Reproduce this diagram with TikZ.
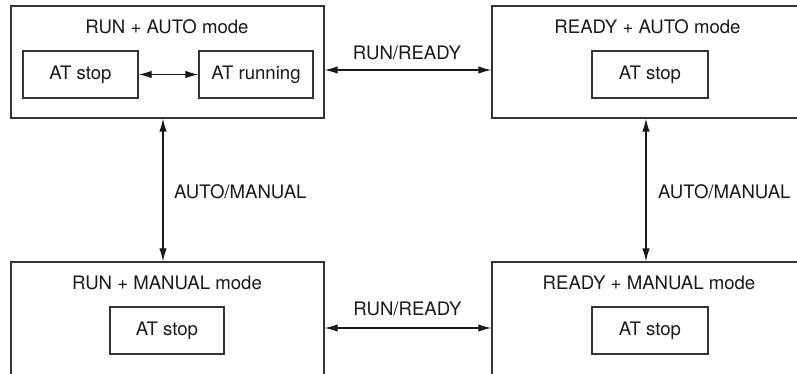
\documentclass[tikz,border=0pt]{standalone}
\usepackage{fontspec}
\setmainfont{TeX Gyre Heros}
\usetikzlibrary{arrows.meta}
\begin{document}
\begin{tikzpicture}[x=1pt,y=-1pt,
  every node/.style={font=\fontsize{18.6}{21}\selectfont, text=black!90},
  outer/.style={draw=black!80, line width=1.3pt, inner sep=0pt},
  inner/.style={draw=black!80, line width=1.3pt, minimum height=47pt, inner sep=0pt},
  arr/.style={{Latex[length=13pt,width=7.5pt]}-{Latex[length=13pt,width=7.5pt]}, line width=1.2pt, draw=black!90},
  lbl/.style={inner sep=0pt}
]
\useasboundingbox (0,0) rectangle (797,374);
\clip (0,0) rectangle (797,374);
% outer boxes
\node[outer, minimum width=313pt, minimum height=112pt] (A) at (167.5,62) {};
\node[outer, minimum width=318pt, minimum height=112pt] (B) at (651,62) {};
\node[outer, minimum width=313pt, minimum height=128pt] (C) at (167.5,326) {};
\node[outer, minimum width=318pt, minimum height=128pt] (D) at (651,326) {};
% titles
\node[lbl] (tA) at (167,27) {RUN + AUTO mode};
\node[lbl] (tB) at (647.5,27) {READY + AUTO mode};
\node[lbl] (tC) at (167,283) {RUN + MANUAL mode};
\node[lbl] (tD) at (649,283) {READY + MANUAL mode};
% inner boxes
\node[inner, minimum width=115pt] (A1) at (80.5,74.5) {AT stop};
\node[inner, minimum width=114pt] (A2) at (256,74.5) {AT running};
\node[inner, minimum width=116pt] (B1) at (650,74.5) {AT stop};
\node[inner, minimum width=114pt] (C1) at (167,330.5) {AT stop};
\node[inner, minimum width=116pt] (D1) at (650,330.5) {AT stop};
% connectors
\draw[arr] (A1.east) -- (A2.west);
\coordinate (h1) at (0,70);
\coordinate (h2) at (0,328);
\coordinate (v1) at (163,0);
\coordinate (v2) at (646,0);
\draw[arr] (A.east |- h1) -- (B.west |- h1);
\draw[arr] (C.east |- h2) -- (D.west |- h2);
\draw[arr] (A.south -| v1) -- (C.north -| v1);
\draw[arr] (B.south -| v2) -- (D.north -| v2);
% labels
\node[lbl] (l1) at (407,53) {RUN/READY};
\node[lbl] (l2) at (407.5,309) {RUN/READY};
\node[lbl, anchor=west] (l3) at (174,192) {AUTO/MANUAL};
\node[lbl, anchor=west] (l4) at (658,192) {AUTO/MANUAL};
\end{tikzpicture}
\end{document}
